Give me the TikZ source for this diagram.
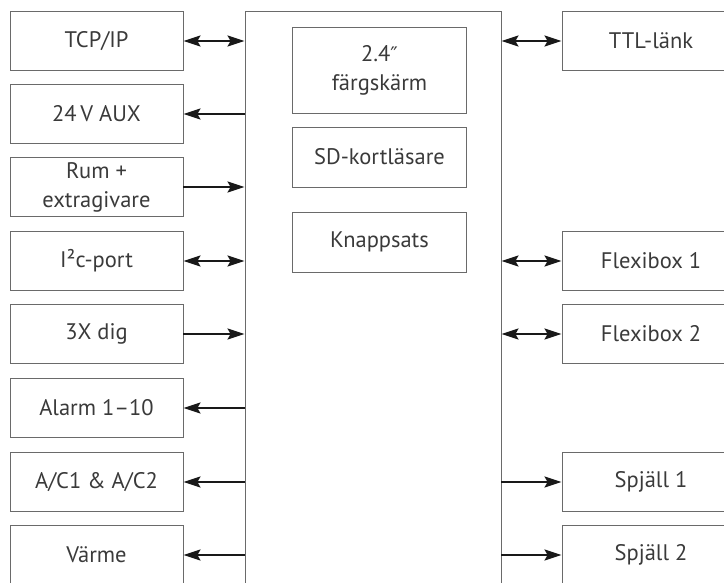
\documentclass[tikz,border=0pt]{standalone}
\usepackage{fontspec}
\setmainfont{PT Sans}
\newfontfamily\primefont{DejaVu Sans}
\usetikzlibrary{arrows.meta}

\definecolor{boxline}{HTML}{6A6A6A}
\definecolor{boxtext}{HTML}{3A3A3A}

\tikzset{
  port/.style={draw=boxline,line width=0.9pt,minimum width=173pt,minimum height=59pt,
    inner sep=0pt,align=center,text=boxtext,font=\fontsize{22.5}{29}\selectfont},
  link/.style={line width=2.2pt,draw=black!90},
  tip/.tip={Stealth[length=17pt,width=11pt,inset=3pt]},
}

\begin{document}
\begin{tikzpicture}[x=1pt,y=-1pt]

  \useasboundingbox (0,0) rectangle (724,582);

  % styrenhet
  \node[draw=boxline,line width=0.9pt,minimum width=256pt,minimum height=600pt,inner sep=0pt]
    (main) at (373,311) {};

  \begin{scope}[every node/.style={port}]
    % vänster sida
    \node (tcp)   at (96.5,41)  {TCP/IP};
    \node (aux)   at (96.5,114) {24\,V AUX};
    \node (rum)   at (96.5,187) {Rum +\\extragivare};
    \node (itc)   at (96.5,261) {I²c-port};
    \node (dig)   at (96.5,334) {3X dig};
    \node (alarm) at (96.5,408) {Alarm 1–10};
    \node (ac)    at (96.5,482) {A/C1 \& A/C2};
    \node (varme) at (96.5,555) {Värme};

    % höger sida
    \node[minimum width=178pt] (ttl)   at (651,41)  {TTL-länk};
    \node[minimum width=178pt] (flex1) at (651,261) {Flexibox 1};
    \node[minimum width=178pt] (flex2) at (651,334) {Flexibox 2};
    \node[minimum width=178pt] (spj1)  at (651,482) {Spjäll 1};
    \node[minimum width=178pt] (spj2)  at (651,555) {Spjäll 2};

    % inuti
    \node[minimum width=174pt,minimum height=86pt] (disp) at (379.5,70)  {2.4{\primefont\fontsize{20}{24}\selectfont ″}\\färgskärm};
    \node[minimum width=174pt,minimum height=60pt] (sd)   at (379.5,157) {SD-kortläsare};
    \node[minimum width=174pt,minimum height=60pt] (knap) at (379.5,242) {Knappsats};
  \end{scope}

  \begin{scope}[link]
    \draw[tip-tip] (tcp.east)   -- (tcp.east -| main.west);
    \draw[tip-]    (aux.east)   -- (aux.east -| main.west);
    \draw[-tip]    (rum.east)   -- (rum.east -| main.west);
    \draw[tip-tip] (itc.east)   -- (itc.east -| main.west);
    \draw[-tip]    (dig.east)   -- (dig.east -| main.west);
    \draw[tip-]    (alarm.east) -- (alarm.east -| main.west);
    \draw[tip-]    (ac.east)    -- (ac.east -| main.west);
    \draw[tip-]    (varme.east) -- (varme.east -| main.west);

    \draw[tip-tip] (ttl.west -| main.east)   -- (ttl.west);
    \draw[tip-tip] (flex1.west -| main.east) -- (flex1.west);
    \draw[tip-tip] (flex2.west -| main.east) -- (flex2.west);
    \draw[-tip]    (spj1.west -| main.east)  -- (spj1.west);
    \draw[-tip]    (spj2.west -| main.east)  -- (spj2.west);
  \end{scope}

\end{tikzpicture}
\end{document}
